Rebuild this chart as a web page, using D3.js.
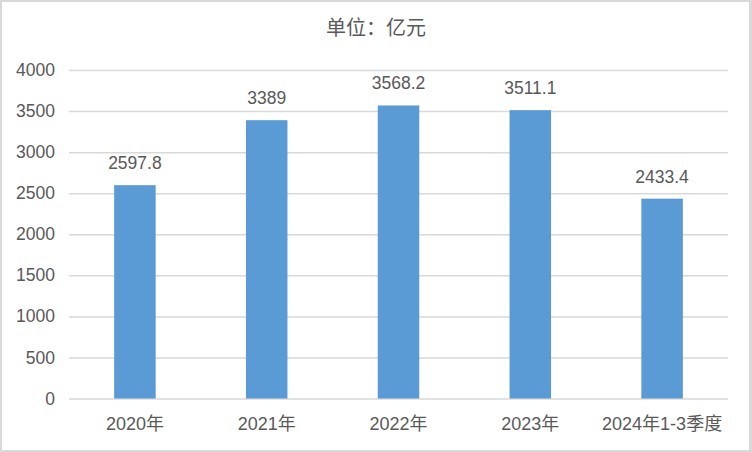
<!DOCTYPE html>
<html>
<head>
<meta charset="utf-8">
<script src="https://cdn.jsdelivr.net/npm/d3@7"></script>
<style>
html,body{margin:0;padding:0;background:#fff;}
svg{display:block;}
text{font-family:"Liberation Sans","Noto Sans CJK SC",Arial,sans-serif;fill:#595959;}
</style>
</head>
<body>
<svg id="chart" width="752" height="452"></svg>
<script>
const categories = ["2020年","2021年","2022年","2023年","2024年1-3季度"];
const values = [2597.8, 3389, 3568.2, 3511.1, 2433.4];
const yTicks = [0,500,1000,1500,2000,2500,3000,3500,4000];
const title = "单位：亿元";

const svg = d3.select("#chart");
svg.append("rect").attr("x",0).attr("y",0).attr("width",752).attr("height",452).attr("fill","#d9d9d9");
svg.append("rect").attr("x",2).attr("y",2).attr("width",747).attr("height",448).attr("fill","#ffffff");

const x = d3.scaleBand().domain(categories).range([69,728]).paddingInner(0.685).paddingOuter(0.3425);
const y = d3.scaleLinear().domain([0,4000]).range([398.5,70]);

// gridlines
const yAxis = d3.axisLeft(y).tickValues(yTicks).tickFormat(d3.format("d")).tickSize(-(728-69)).tickPadding(14);
const gy = svg.append("g").attr("transform","translate(69,0)").call(yAxis);
gy.select(".domain").remove();
gy.selectAll(".tick line").attr("stroke","#d9d9d9").attr("stroke-width",1.5);
gy.selectAll(".tick text").attr("font-size","17.5px").attr("fill","#595959")
  .style("font-family",'"Liberation Sans","Noto Sans CJK SC",Arial,sans-serif');

// bars
svg.append("g").selectAll("rect").data(values).join("rect")
  .attr("x",(d,i)=>x(categories[i]))
  .attr("y",d=>y(d))
  .attr("width",x.bandwidth())
  .attr("height",d=>y(0)-y(d))
  .attr("fill","#5B9BD5");

// value labels
svg.append("g").selectAll("text").data(values).join("text")
  .attr("x",(d,i)=>x(categories[i])+x.bandwidth()/2)
  .attr("y",d=>y(d)-16)
  .attr("text-anchor","middle")
  .attr("font-size","17.5px")
  .text(d=>String(d));

// x axis labels
const xAxis = d3.axisBottom(x).tickSize(0).tickPadding(0);
const gx = svg.append("g").attr("transform","translate(0,398.5)").call(xAxis);
gx.select(".domain").remove();
gx.selectAll(".tick text").attr("y",31.5).attr("dy",null).attr("font-size","18px").attr("fill","#595959")
  .style("font-family",'"Liberation Sans","Noto Sans CJK SC",Arial,sans-serif');

// title
svg.append("text").attr("x",376).attr("y",35).attr("text-anchor","middle")
  .attr("font-size","20px").style("font-family",'"Noto Sans CJK SC","Liberation Sans",sans-serif')
  .text(title);
</script>
</body>
</html>
